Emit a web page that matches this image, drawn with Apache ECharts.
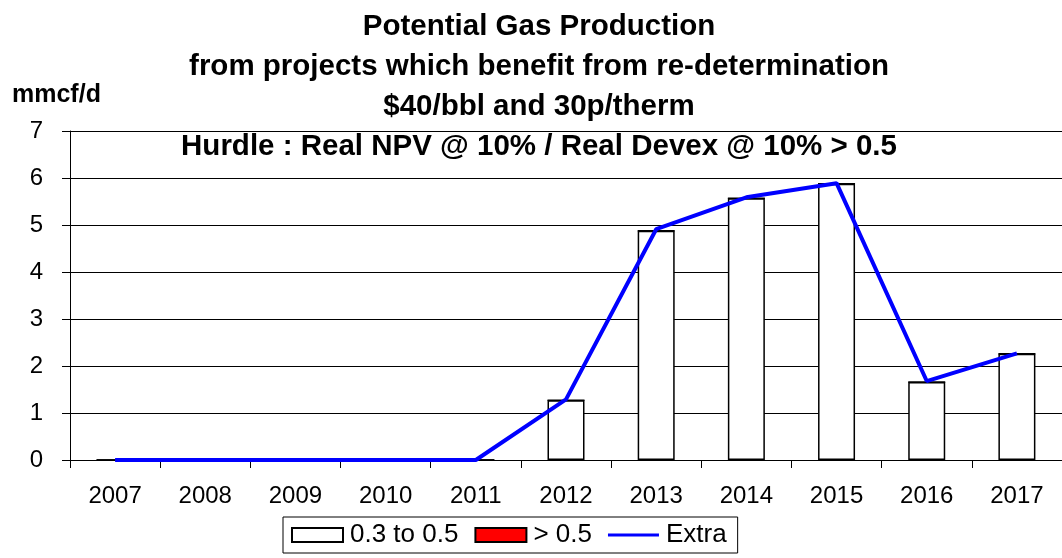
<!DOCTYPE html>
<html>
<head>
<meta charset="utf-8">
<script src="https://cdn.jsdelivr.net/npm/echarts@6/dist/echarts.min.js"></script>
<style>
html,body{margin:0;padding:0;background:#fff;}
#chart{width:1062px;height:558px;}
</style>
</head>
<body>
<div id="chart"></div>
<script>
var years = ['2007','2008','2009','2010','2011','2012','2013','2014','2015','2016','2017'];
var range03to05 = [0, 0, 0, 0, 0, 1.27, 4.88, 5.57, 5.88, 1.66, 2.26];
var above05 = [0, 0, 0, 0, 0, 0, 0, 0, 0, 0, 0];
var extra = [0, 0, 0, 0, 0, 1.29, 4.91, 5.59, 5.89, 1.68, 2.27];
var yTicks = [0, 1, 2, 3, 4, 5, 6, 7];
var titleLines = [
  'Potential Gas Production',
  'from projects which benefit from re-determination',
  '$40/bbl and 30p/therm',
  'Hurdle : Real NPV @ 10% / Real Devex @ 10% > 0.5'
];
var unitLabel = 'mmcf/d';

var FONT = '"Liberation Sans", Arial, sans-serif';
var chart = echarts.init(document.getElementById('chart'));
chart.setOption({
  animation: false,
  backgroundColor: '#ffffff',
  title: [{
    text: titleLines.join('\n'),
    left: 539,
    top: 7,
    padding: 0,
    textAlign: 'center',
    textStyle: { fontFamily: FONT, fontWeight: 'bold', fontSize: 29.5, lineHeight: 40, color: '#000' }
  }, {
    text: unitLabel,
    left: 12,
    top: 83,
    padding: 0,
    textStyle: { fontFamily: FONT, fontWeight: 'bold', fontSize: 25, lineHeight: 25, color: '#000' }
  }],
  legend: {
    left: 283,
    top: 517,
    padding: [5, 11, 5, 8],
    itemWidth: 51,
    itemHeight: 14,
    itemGap: 16,
    borderColor: '#000',
    borderWidth: 1,
    borderRadius: 0,
    textStyle: { fontFamily: FONT, fontSize: 26, color: '#000', lineHeight: 26, padding: [0, 0, 0, 2] },
    data: [
      { name: '0.3 to 0.5', icon: 'rect' },
      { name: '> 0.5', icon: 'rect' },
      { name: 'Extra', icon: 'path://M0,0L0,14M0,5.5h51v3h-51z', itemStyle: { borderWidth: 0, color: '#0000ff' } }
    ]
  },
  grid: { left: 70, top: 131, width: 1001, bottom: 98 },
  xAxis: {
    type: 'category',
    data: years,
    boundaryGap: true,
    axisLine: { show: true, lineStyle: { color: '#000', width: 1 } },
    axisTick: { show: true, length: 8, alignWithLabel: false, lineStyle: { color: '#000', width: 1 } },
    axisLabel: { fontFamily: FONT, fontSize: 24, color: '#000', margin: 24 },
    splitLine: { show: false }
  },
  yAxis: {
    type: 'value',
    min: yTicks[0],
    max: yTicks[yTicks.length - 1],
    interval: 1,
    axisLine: { show: true, lineStyle: { color: '#000', width: 1 } },
    axisTick: { show: true, length: 8, lineStyle: { color: '#000', width: 1 } },
    axisLabel: { fontFamily: FONT, fontSize: 24, color: '#000', margin: 27 },
    splitLine: { show: true, lineStyle: { color: '#000', width: 1 } }
  },
  series: [{
    name: '0.3 to 0.5',
    type: 'bar',
    stack: 'total',
    data: range03to05,
    barWidth: 37,
    itemStyle: { color: '#ffffff', borderColor: '#000', borderWidth: 1.5 }
  }, {
    name: '> 0.5',
    type: 'bar',
    stack: 'total',
    data: above05,
    barWidth: 37,
    itemStyle: { color: '#ff0000', borderColor: '#000', borderWidth: 1.5 }
  }, {
    name: 'Extra',
    type: 'line',
    data: extra,
    symbol: 'none',
    z: 5,
    lineStyle: { color: '#0000ff', width: 4 },
    itemStyle: { color: '#0000ff' }
  }]
});
</script>
</body>
</html>
